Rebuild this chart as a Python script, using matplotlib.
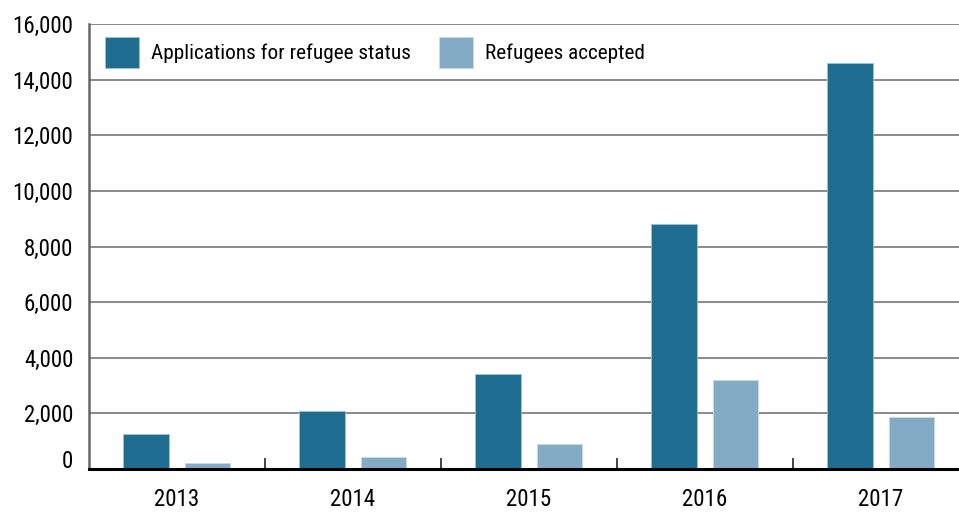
import matplotlib
matplotlib.use("Agg")
import matplotlib.pyplot as plt
import matplotlib.transforms as mtransforms
from matplotlib.patches import Patch
import numpy as np

plt.rcParams['font.family'] = ['Roboto Condensed', 'Archivo Narrow', 'Liberation Sans', 'DejaVu Sans']

# data
years = ["2013", "2014", "2015", "2016", "2017"]
applications = [1250, 2100, 3400, 8800, 14600]
accepted = [230, 420, 900, 3200, 1870]
series_labels = ["Applications for refugee status", "Refugees accepted"]
y_ticks = [0, 2000, 4000, 6000, 8000, 10000, 12000, 14000, 16000]

dark = "#1f6e92"
light = "#84abc5"

fig = plt.figure(figsize=(9.59, 5.12), dpi=100)
ax = fig.add_axes([0.0925, 0.084, 0.9075, 0.869])

x = np.arange(len(years))
bw = 0.26
ax.bar(x - 0.175, applications, width=bw, color=dark, edgecolor="#9fc3d6",
       linewidth=0.6, zorder=3)
ax.bar(x + 0.175, accepted, width=bw, color=light, edgecolor="#c9dbe6",
       linewidth=0.6, zorder=3)

ax.set_xlim(-0.5, 4.445)
ax.set_ylim(0, 16000)

# horizontal grid
ax.set_yticks(y_ticks)
ax.set_yticklabels([f"{v:,}" for v in y_ticks], fontsize=16.5)
ax.yaxis.grid(True, color="#8a8a8a", linewidth=1.4, zorder=0)
ax.tick_params(axis="y", length=0, pad=11)
ax.set_axisbelow(True)

# raise the "0" label a little, like the original
lbl0 = ax.get_yticklabels()[0]
lbl0.set_transform(lbl0.get_transform() + mtransforms.ScaledTranslation(0, 10 / 100, fig.dpi_scale_trans))

# year labels centered, separator ticks between groups
ax.set_xticks(x)
ax.set_xticklabels(years, fontsize=16.5)
ax.tick_params(axis="x", length=0, pad=14)
for b in x[:-1] + 0.5:
    ax.plot([b, b], [0, 360], color="#444444", linewidth=1.4, zorder=4, clip_on=False)

for s in ["top", "right"]:
    ax.spines[s].set_visible(False)
ax.spines["left"].set_color("#666666")
ax.spines["left"].set_linewidth(1.8)
ax.spines["bottom"].set_color("black")
ax.spines["bottom"].set_linewidth(2.2)
ax.spines["bottom"].set_zorder(5)

handles = [Patch(facecolor=dark, edgecolor="#9fc3d6", linewidth=0.6),
           Patch(facecolor=light, edgecolor="#c9dbe6", linewidth=0.6)]
ax.legend(handles, series_labels, loc="upper left", bbox_to_anchor=(0.0187, 0.971),
          ncol=2, frameon=False, fontsize=15.3, handlelength=1.6, handleheight=1.85,
          handletextpad=0.55, columnspacing=1.35, borderpad=0, borderaxespad=0)

fig.savefig("out.png", dpi=100)
